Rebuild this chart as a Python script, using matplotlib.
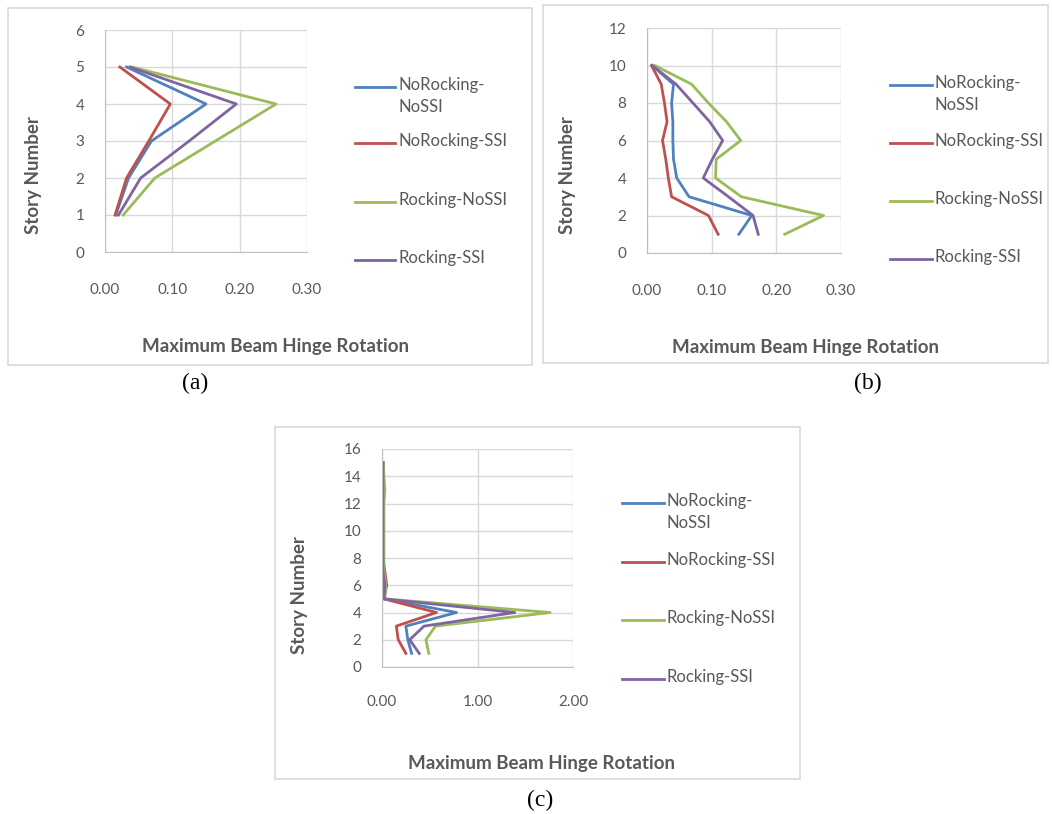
import matplotlib
matplotlib.use('Agg')
import matplotlib.pyplot as plt
from matplotlib.lines import Line2D
from matplotlib.patches import Rectangle

# series names and colours (Excel 2007 defaults)
series_names = ['NoRocking-\nNoSSI', 'NoRocking-SSI', 'Rocking-NoSSI', 'Rocking-SSI']
series_colors = ['#4F81BD', '#C0504D', '#9BBB59', '#8064A2']

# (a) 5-story frame
stories_a = [1, 2, 3, 4, 5]
a_norock_nossi = [0.016, 0.035, 0.069, 0.150, 0.032]
a_norock_ssi = [0.015, 0.032, 0.065, 0.097, 0.022]
a_rock_nossi = [0.027, 0.074, 0.164, 0.254, 0.040]
a_rock_ssi = [0.020, 0.053, 0.125, 0.195, 0.037]

# (b) 10-story frame
stories_b = [1, 2, 3, 4, 5, 6, 7, 8, 9, 10]
b_norock_nossi = [0.142, 0.162, 0.065, 0.046, 0.041, 0.040, 0.040, 0.038, 0.041, 0.008]
b_norock_ssi = [0.110, 0.095, 0.038, 0.033, 0.029, 0.024, 0.031, 0.027, 0.022, 0.007]
b_rock_nossi = [0.213, 0.273, 0.146, 0.106, 0.107, 0.145, 0.123, 0.095, 0.069, 0.012]
b_rock_ssi = [0.172, 0.164, 0.126, 0.087, 0.101, 0.117, 0.097, 0.071, 0.045, 0.008]

# (c) 15-story frame
stories_c = list(range(1, 16))
c_norock_nossi = [0.31, 0.27, 0.25, 0.78, 0.02, 0.02, 0.01, 0.01, 0.01, 0.01, 0.01, 0.01, 0.01, 0.01, 0.01]
c_norock_ssi = [0.25, 0.17, 0.15, 0.57, 0.02, 0.05, 0.03, 0.01, 0.01, 0.01, 0.01, 0.01, 0.01, 0.01, 0.01]
c_rock_nossi = [0.49, 0.46, 0.56, 1.76, 0.03, 0.04, 0.02, 0.02, 0.02, 0.02, 0.02, 0.02, 0.03, 0.02, 0.01]
c_rock_ssi = [0.39, 0.29, 0.44, 1.39, 0.02, 0.03, 0.01, 0.01, 0.01, 0.01, 0.01, 0.01, 0.01, 0.01, 0.01]

W, H = 1052, 814
GRAY = '#595959'
FONT = 'Lato'

fig = plt.figure(figsize=(W / 100, H / 100), dpi=100)


def fx(x):
    return x / W


def fy(y):
    return 1 - y / H


def panel(frame, plot, stories, data, xticks, ymax, ystep, leg, xtitle, ytitle, tag, xpad, ypad):
    # chart border
    fl, ft, fr, fb = frame
    fig.add_artist(Rectangle((fx(fl), fy(fb)), fx(fr - fl), (fb - ft) / H,
                             fill=False, edgecolor='#D9D9D9', linewidth=1.2))
    l, t, r, b = plot
    ax = fig.add_axes([fx(l), fy(b), fx(r - l), (b - t) / H])
    for vals, c in zip(data, series_colors):
        ax.plot(vals, stories, color=c, linewidth=2.0)
    ax.set_xlim(xticks[0], xticks[-1])
    ax.set_ylim(0, ymax)
    ax.set_xticks(xticks)
    ax.set_xticklabels(['{:.2f}'.format(v) for v in xticks])
    ax.set_yticks(range(0, ymax + 1, ystep))
    ax.grid(True, color='#D9D9D9', linewidth=1)
    ax.set_axisbelow(True)
    for s in ['top', 'right']:
        ax.spines[s].set_visible(False)
    for s in ['left', 'bottom']:
        ax.spines[s].set_color('#BFBFBF')
    ax.tick_params(axis='both', length=0, labelcolor=GRAY, labelsize=11)
    ax.tick_params(axis='x', pad=xpad)
    ax.tick_params(axis='y', pad=ypad)
    for lab in ax.get_xticklabels() + ax.get_yticklabels():
        lab.set_fontfamily(FONT)

    # legend, Excel style (handle beside the first line of text)
    lx0, lx1, ys = leg
    for name, c, y in zip(series_names, series_colors, ys):
        fig.add_artist(Line2D([fx(lx0), fx(lx1)], [fy(y), fy(y)], color=c, linewidth=2.0))
        fig.text(fx(lx1 + 3), fy(y - 10), name, ha='left', va='top', color=GRAY,
                 fontsize=12, family=FONT, linespacing=1.5)

    fig.text(fx(xtitle[0]), fy(xtitle[1]), 'Maximum Beam Hinge Rotation', ha='center', va='center',
             color=GRAY, fontsize=13.5, fontweight='bold', family=FONT)
    fig.text(fx(ytitle[0]), fy(ytitle[1]), 'Story Number', ha='center', va='center', rotation=90,
             color=GRAY, fontsize=13.5, fontweight='bold', family=FONT)
    fig.text(fx(tag[0]), fy(tag[1]), tag[2], ha='center', va='center',
             fontsize=17, family='Liberation Serif', color='black')
    return ax


panel((8, 8, 532, 365), (105, 30, 307, 252), stories_a,
      [a_norock_nossi, a_norock_ssi, a_rock_nossi, a_rock_ssi],
      [0, 0.1, 0.2, 0.3], 6, 1,
      (355, 395, [87, 143, 202, 260]), (276, 347), (33, 175), (195, 383, '(a)'), 22, 15)

panel((543, 5, 1048, 363), (647, 28, 841, 253), stories_b,
      [b_norock_nossi, b_norock_ssi, b_rock_nossi, b_rock_ssi],
      [0, 0.1, 0.2, 0.3], 12, 2,
      (890, 932, [85, 143, 201, 259]), (805, 348), (568, 175), (868, 383, '(b)'), 22, 15)

panel((275, 427, 800, 779), (382, 449, 573, 667), stories_c,
      [c_norock_nossi, c_norock_ssi, c_rock_nossi, c_rock_ssi],
      [0, 1, 2], 16, 2,
      (622, 664, [503, 562, 620, 679]), (541, 763), (300, 595), (540, 800, '(c)'), 20, 15)

fig.savefig('out.png', dpi=100)
